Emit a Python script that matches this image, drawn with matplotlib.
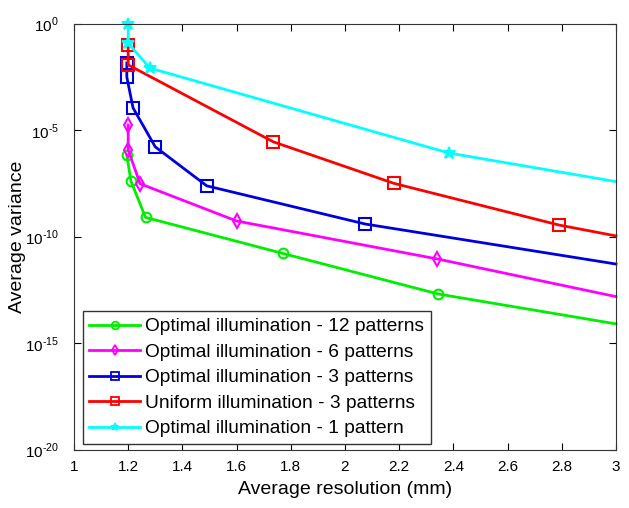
import numpy as np
import matplotlib
matplotlib.use("Agg")
import matplotlib.pyplot as plt
from matplotlib.ticker import FixedLocator, FixedFormatter

plt.rcParams['font.family'] = ['Liberation Sans', 'DejaVu Sans']
plt.rcParams['mathtext.fontset'] = 'custom'
plt.rcParams['mathtext.rm'] = 'Liberation Sans'

# values (y given as log10 of variance)
x_12 = [1.195, 1.21, 1.264, 1.77, 2.345, 3.0]
e_12 = [-6.15, -7.37, -9.08, -10.77, -12.68, -14.08]

x_6 = [1.2, 1.2, 1.244, 1.6, 2.34, 3.0]
e_6 = [-4.74, -5.92, -7.5, -9.25, -11.03, -12.8]

x_3 = [1.195, 1.195, 1.218, 1.30, 1.49, 2.074, 3.0]
e_3 = [-1.83, -2.49, -3.94, -5.77, -7.6, -9.39, -11.27]

x_u3 = [1.2, 1.2, 1.735, 2.18, 2.79, 3.0]
e_u3 = [-0.99, -1.92, -5.53, -7.48, -9.44, -9.95]

x_1 = [1.2, 1.2, 1.28, 2.384, 3.0]
e_1 = [-0.02, -0.9, -2.07, -6.06, -7.4]

labels = ['Optimal illumination - 12 patterns',
          'Optimal illumination - 6 patterns',
          'Optimal illumination - 3 patterns',
          'Uniform illumination - 3 patterns',
          'Optimal illumination - 1 pattern']

fig = plt.figure(figsize=(6.29, 5.08), dpi=100)
ax = fig.add_axes([0.1176, 0.1142, 0.8617, 0.8386])

series = [(x_12, e_12, '#00ee00', 'o', 7, 'none'),
          (x_6, e_6, '#ff00ff', 'd', 7, 'none'),
          (x_3, e_3, '#0000dd', 's', 8, 'none'),
          (x_u3, e_u3, '#ff0000', 's', 8, 'none'),
          (x_1, e_1, '#00ffff', '*', 9, 'full')]

for (xs, es, c, m, ms, fs), lab in zip(series, labels):
    ys = 10.0 ** np.array(es)
    ax.semilogy(xs, ys, color=c, lw=2, marker=m, ms=ms, fillstyle=fs,
                mew=1.5, markevery=list(range(len(xs) - 1)), label=lab,
                clip_on=False)

ax.set_xlim(1, 3)
ax.set_ylim(1e-20, 1)
ax.set_xticks(np.arange(1, 3.01, 0.2))
ax.set_xticklabels(['1', '1.2', '1.4', '1.6', '1.8', '2', '2.2', '2.4', '2.6', '2.8', '3'])
yt = [1e-20, 1e-15, 1e-10, 1e-5, 1]
ylabels = [r'$\mathrm{10}^{\text{-20}}$', r'$\mathrm{10}^{\text{-15}}$',
           r'$\mathrm{10}^{\text{-10}}$', r'$\mathrm{10}^{\text{-5}}$', r'$\mathrm{10}^{\mathrm{0}}$']
ax.yaxis.set_major_locator(FixedLocator(yt))
ax.yaxis.set_major_formatter(FixedFormatter(ylabels))
ax.yaxis.set_minor_locator(FixedLocator([]))
ax.tick_params(direction='in', top=True, right=True, labelsize=11, length=5)
ax.tick_params(axis='x', pad=7)
ax.tick_params(axis='y', pad=11)
for s in ax.spines.values():
    s.set_color('#333333')

ax.set_xlabel('Average resolution (mm)', fontsize=14, labelpad=5)
ax.set_ylabel('Average variance', fontsize=14)
ax.yaxis.set_label_coords(-0.088, 0.5)

leg = ax.legend(loc='lower left', bbox_to_anchor=(0.016, 0.014), borderaxespad=0,
                fontsize=13.8, handlelength=2.65, fancybox=False, framealpha=1,
                edgecolor='#333333', labelspacing=0.42, handletextpad=0.25,
                borderpad=0.35, numpoints=1)
for h in leg.legend_handles:
    h.set_markevery([1])
    h.set_markersize(5.5)
    h.set_markeredgewidth(1.3)

fig.savefig('out.png', dpi=100)
